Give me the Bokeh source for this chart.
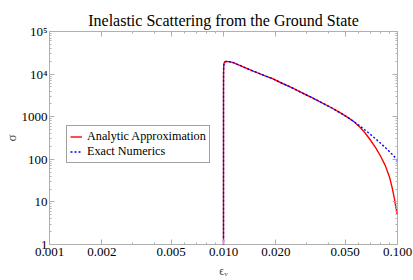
from bokeh.plotting import figure
from bokeh.models import (FixedTicker, NumeralTickFormatter, LogAxis, Legend)
from bokeh.embed import file_html
from bokeh.resources import INLINE

# ---- data ----
analytic_x = [0.0100, 0.010001, 0.010005, 0.01001, 0.01002, 0.01004, 0.01007, 0.0101,
              0.01015, 0.0102, 0.0104, 0.0107, 0.0110, 0.0115, 0.0120, 0.0130, 0.0140,
              0.0157, 0.0175, 0.0190, 0.0217, 0.0250, 0.0282, 0.0320, 0.0366, 0.0420,
              0.0475, 0.0520, 0.0560, 0.0600, 0.0650, 0.0700, 0.0750, 0.0800, 0.0850,
              0.0900, 0.0933, 0.0960, 0.0980, 0.1000]
analytic_y = [0.01, 3500, 8000, 11000, 13800, 16000, 17600, 18500,
              19200, 19500, 19700, 19600, 19300, 18300, 17000, 14800, 12900,
              10700, 9000, 7900, 6100, 4700, 3650, 2850, 2150, 1600,
              1200, 950, 770, 600, 420, 280, 185, 118, 72,
              38, 21, 12, 7.2, 5.0]

exact_x = [0.0100, 0.010001, 0.010005, 0.01001, 0.01002, 0.01004, 0.01007, 0.0101,
           0.01015, 0.0102, 0.0104, 0.0107, 0.0110, 0.0115, 0.0120, 0.0130, 0.0140,
           0.0157, 0.0175, 0.0190, 0.0217, 0.0250, 0.0282, 0.0320, 0.0366, 0.0420,
           0.0475, 0.0520, 0.0560, 0.0600, 0.0650, 0.0700, 0.0750, 0.0800, 0.0850,
           0.0900, 0.0950, 0.1000]
exact_y = [0.01, 3500, 8000, 11000, 13800, 16000, 17600, 18500,
           19200, 19500, 19700, 19600, 19300, 18300, 17000, 14800, 12900,
           10700, 9000, 7900, 6100, 4700, 3650, 2850, 2150, 1600,
           1200, 950, 775, 626, 488, 382, 300, 238, 189,
           151, 121, 94]

x_major = [0.001, 0.002, 0.005, 0.01, 0.02, 0.05, 0.1]
x_minor = [0.003, 0.004, 0.006, 0.007, 0.008, 0.009, 0.03, 0.04, 0.06, 0.07, 0.08, 0.09]
y_major = [1, 10, 100, 1000, 10000, 100000]
y_minor = [m * d for d in [1, 10, 100, 1000, 10000] for m in range(2, 10)]
y_labels = {1: "1", 10: "10", 100: "100", 1000: "1000", 10000: "10\u2074", 100000: "10\u2075"}

TITLE = "Inelastic Scattering from the Ground State"
XLABEL = "\u03f5\u1d65"
YLABEL = "\u03c3"
SERIF = "Liberation Serif"
FRAME = "#b0b0b0"

p = figure(width=413, height=280, x_axis_type="log", y_axis_type="log",
           x_range=(0.001, 0.1), y_range=(1, 1e5),
           output_backend="svg", toolbar_location=None,
           min_border_left=44, min_border_right=16, min_border_top=31, min_border_bottom=32)

p.title.text = TITLE
p.title.align = "center"
p.title.vertical_align = "top"
p.title.text_font = SERIF
p.title.text_font_style = "normal"
p.title.text_font_size = "16px"
p.title.text_color = "#000000"
p.title.standoff = 2

p.xgrid.visible = False
p.ygrid.visible = False
p.outline_line_color = FRAME
p.outline_line_width = 1

xt = FixedTicker(ticks=x_major, minor_ticks=x_minor)
yt = FixedTicker(ticks=y_major, minor_ticks=y_minor)


def style(ax, labels=True):
    ax.axis_line_color = None
    ax.major_tick_line_color = FRAME
    ax.minor_tick_line_color = FRAME
    ax.major_tick_in = 5
    ax.major_tick_out = 0
    ax.minor_tick_in = 2
    ax.minor_tick_out = 0
    ax.major_label_text_font = SERIF
    ax.major_label_text_color = "#000000"
    if labels:
        ax.major_label_text_font_size = "13px"
        ax.major_label_standoff = 2
    else:
        ax.major_label_text_font_size = "1px"
        ax.major_label_text_alpha = 0
        ax.major_label_standoff = 0


xa = p.xaxis[0]
xa.ticker = xt
xa.formatter = NumeralTickFormatter(format="0.000")
style(xa)
xa.major_label_standoff = 3
xa.major_label_text_line_height = 1.0
xa.axis_label = XLABEL
xa.axis_label_text_font = SERIF
xa.axis_label_text_font_style = "normal"
xa.axis_label_text_font_size = "12px"
xa.axis_label_text_line_height = 1.0
xa.axis_label_standoff = 5

ya = p.yaxis[0]
ya.ticker = yt
ya.major_label_overrides = y_labels
style(ya)
ya.axis_label = YLABEL
ya.axis_label_text_font = SERIF
ya.axis_label_text_font_style = "normal"
ya.axis_label_text_font_size = "13px"
ya.axis_label_standoff = 0

top = LogAxis(ticker=xt)
style(top, labels=False)
p.add_layout(top, "above")
right = LogAxis(ticker=yt)
style(right, labels=False)
p.add_layout(right, "right")

r1 = p.line(analytic_x, analytic_y, line_color="#ff0000", line_width=1.4)
r2 = p.line(exact_x, exact_y, line_color="#0000ff", line_width=1.4, line_dash="2 2")

legend = Legend(items=[("Analytic Approximation", [r1]), ("Exact Numerics", [r2])],
                location=(17, 81), orientation="vertical")
legend.label_text_font = SERIF
legend.label_text_font_size = "12.2px"
legend.label_text_color = "#000000"
legend.glyph_width = 12
legend.glyph_height = 15
legend.label_height = 15
legend.label_standoff = 5
legend.spacing = 0
legend.padding = 3
legend.margin = 0
legend.border_line_color = "#444444"
legend.border_line_width = 1
legend.background_fill_alpha = 1
p.add_layout(legend)

open("out.html", "w").write(file_html(p, INLINE))
